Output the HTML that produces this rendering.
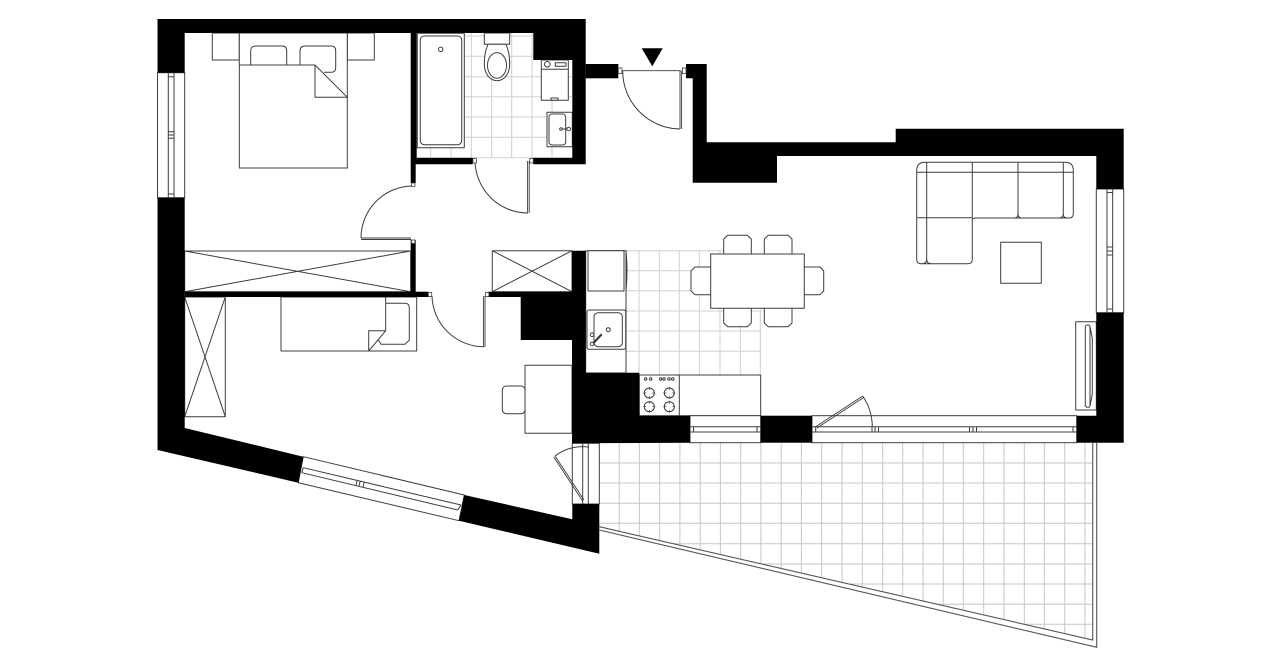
<!DOCTYPE html>
<html><head><meta charset="utf-8"><title>Floor plan</title>
<style>html,body{margin:0;padding:0;background:#fff}svg{display:block}</style></head>
<body>
<svg width="1280" height="667" viewBox="0 0 1280 667" xmlns="http://www.w3.org/2000/svg">
<rect width="1280" height="667" fill="#fff"/>

<!-- bathroom grid -->
<g stroke="#cfcfcf" stroke-width="1" fill="none">
<path d="M430.7 33V157.7M451 33V157.7M471.3 33V157.7M491.7 33V157.7M511.7 33V157.7M532 33V157.7M552 33V157.7"/>
<path d="M416.7 36H572M416.7 56.3H572M416.7 76.7H572M416.7 96.7H572M416.7 117H572M416.7 137.3H572M472 157.7H534"/>
</g>
<!-- kitchen grid -->
<g stroke="#cfcfcf" stroke-width="1" fill="none">
<path d="M639 250.7V375M659.3 250.7V375M679.3 250.7V375M699.3 250.7V375M720 250.7V375M740.3 250.7V375M760.3 300V375"/>
<path d="M626 250.7H745M626 270.7H711M626 290.7H711M626 311H760.5M626 331H760.5M626 351.3H760.5"/>
</g>
<!-- terrace grid -->
<clipPath id="t"><polygon points="599.3,443 1092.7,443 1092.7,640 599.3,526.7"/></clipPath>
<g stroke="#c6c6c6" stroke-width="1" fill="none" clip-path="url(#t)">
<path d="M619.2 443V650M639.4 443V650M659.7 443V650M679.9 443V650M700.2 443V650M720.4 443V650M740.7 443V650M760.9 443V650M781.2 443V650M801.4 443V650M821.7 443V650M842 443V650M862.3 443V650M882.7 443V650M902.7 443V650M923 443V650M943.3 443V650M963.3 443V650M983.7 443V650M1004 443V650M1024.3 443V650M1044.3 443V650M1064.7 443V650M1085 443V650"/>
<path d="M599 463H1093M599 483H1093M599 503.3H1093M599 523.3H1093M599 543.7H1093M599 564H1093M599 584H1093M599 604.3H1093M599 624.3H1093"/>
</g>
<g stroke="#555" stroke-width="1.1" fill="none">
<path d="M599.3 526.7L1092.7 640V443"/>
<path d="M599.3 530L1096.7 647.3V443"/>
</g>

<g stroke="#3c3c3c" stroke-width="1" fill="#fff" stroke-linejoin="round">
<!-- bed 1 -->
<rect x="212.3" y="33" width="27" height="27"/>
<rect x="347.3" y="33" width="27" height="27"/>
<rect x="239.3" y="33" width="108" height="135"/>
<path d="M250.7 65V51Q250.7 46 255.7 46H282Q286.7 46 286.7 51V65"/>
<path d="M300 65V51Q300 46 305 46H331Q335.7 46 335.7 51V68Q335.7 72.3 331 72.3H324"/>
<path d="M239.3 65H315L347.3 97.3H315V65" fill="none"/>
<!-- wardrobes -->
<rect x="184.7" y="251" width="226" height="40.7"/>
<path d="M184.7 251L410.7 291.7M184.7 291.7L410.7 251" fill="none"/>
<rect x="184.7" y="297" width="40.6" height="119.7"/>
<path d="M184.7 297L225.3 416.7M184.7 416.7L225.3 297" fill="none"/>
<rect x="492.3" y="250.7" width="79.7" height="41"/>
<path d="M492.3 250.7L572 291.7M492.3 291.7L572 250.7" fill="none"/>
<!-- bed 2 -->
<rect x="281" y="297" width="135.7" height="54"/>
<path d="M385.7 303.3H405Q409.3 303.3 409.3 308V340L405 344.3H381L378.5 340" fill="none"/>
<path d="M385.7 297V330.7H368.7V351L385.7 330.7" fill="#fff"/>
<!-- desk and chair -->
<rect x="502.3" y="386" width="22.7" height="27.7" rx="4"/>
<rect x="525" y="365.3" width="47" height="68"/>
<!-- bath -->
<rect x="417.3" y="33.3" width="47" height="114.4"/>
<rect x="420.3" y="36" width="41.4" height="108.7" rx="4"/>
<circle cx="440.7" cy="49.3" r="2.2"/>
<!-- toilet -->
<rect x="484.3" y="33" width="25.4" height="11.3"/>
<path d="M488 44.3C485.5 50 484.3 56 484.3 64C484.3 74 490 80.7 497 80.7C504 80.7 509.7 74 509.7 64C509.7 56 508.5 50 506 44.3Z"/>
<ellipse cx="497" cy="65.4" rx="9.5" ry="12.8"/>
<!-- washer -->
<rect x="541.3" y="60" width="27" height="40.3"/>
<path d="M541.3 69.3H568.3" fill="none"/>
<circle cx="547.3" cy="64.3" r="2.8"/>
<rect x="555.3" y="62.7" width="10.7" height="3.6"/>
<rect x="551" y="98" width="7" height="2.3"/>
<!-- basin -->
<rect x="547" y="112.3" width="25.3" height="34.4"/>
<rect x="549" y="114" width="16.7" height="31" rx="3"/>
<path d="M561 129H568.7" fill="none"/>
<circle cx="561" cy="129" r="1.3"/>
<circle cx="568.7" cy="129" r="1.8"/>
<!-- kitchen left counter -->
<rect x="585.7" y="250.7" width="40.3" height="122.3"/>
<rect x="588" y="250.7" width="36" height="40.3"/>
<path d="M626 251Q628 270 626 291" fill="none"/>
<rect x="587" y="310" width="38.7" height="39.3" rx="2"/>
<rect x="594" y="312.7" width="28.3" height="34" rx="4"/>
<circle cx="608.3" cy="329.7" r="2"/>
<path d="M593.3 343.3L601.7 334.3" fill="none" stroke-width="2.2"/>
<circle cx="592" cy="334.7" r="1.8"/>
<circle cx="592" cy="344" r="1.8"/>
<!-- kitchen counter -->
<rect x="639.3" y="375" width="121.4" height="40.7"/>
<rect x="639.3" y="375" width="40" height="40.7"/>
<circle cx="649.3" cy="393" r="5"/><circle cx="669.3" cy="393" r="5"/>
<circle cx="649.3" cy="406.7" r="5"/><circle cx="669.3" cy="406.7" r="5"/>
<path d="M649.3 387V390M649.3 396V399M643.3 393H646.3M652.3 393H655.3M669.3 387V390M669.3 396V399M663.3 393H666.3M672.3 393H675.3M649.3 400.7V403.7M649.3 409.7V412.7M643.3 406.7H646.3M652.3 406.7H655.3M669.3 400.7V403.7M669.3 409.7V412.7M663.3 406.7H666.3M672.3 406.7H675.3" fill="none" stroke-width=".7"/>
<circle cx="645.7" cy="379" r="1.2"/><circle cx="650.7" cy="379" r="1.2"/>
<circle cx="660.7" cy="379" r="1.2"/><circle cx="664" cy="379" r="1.2"/>
<circle cx="669" cy="379" r="1.2"/><circle cx="672.7" cy="379" r="1.2"/>
<!-- dining -->
<path d="M723.7 254V239L727.7 235.3H747.3L751.3 239V254M764.3 254V239L768.3 235.3H788L792 239V254M723.7 308.3V323L727.7 326.7H747.3L751.3 323V308.3M764.3 308.3V323L768.3 326.7H788L792 323V308.3M710.7 267H695L691 271V291L695 294.7H710.7M804.3 267H820L823.7 271V291L820 294.7H804.3"/>
<rect x="710.7" y="254" width="93.6" height="54.3"/>
<!-- sofa -->
<path d="M925 162.3H1065Q1073.3 162.3 1073.3 170.5V213.5Q1073.3 218 1069 218H975L972.3 219V259.5Q972.3 263.7 968 263.7H921Q916.7 263.7 916.7 259.5V170.5Q916.7 162.3 925 162.3Z"/>
<path d="M926.7 162.3V259Q926.7 263.7 931 263.7M926.7 259Q926.7 263.7 922 263.7M916.7 172.3H1073.3M972.3 162.3V217.7M1018 162.3V214Q1018 218 1022 218M1018 214Q1018 218 1014 218M1063.3 162.3V214Q1063.3 218 1067 218M1063.3 214Q1063.3 218 1059 218M916.7 217.7H972.3" fill="none"/>
<rect x="1000.7" y="242.3" width="40.6" height="41"/>
<!-- TV -->
<rect x="1075.7" y="321.7" width="20.6" height="88.3"/>
<path d="M1085.3 326L1087 325H1089L1090 327L1092.3 338V394L1090 406L1089 407.3H1087L1085.3 406Z"/>
<path d="M1090 327V406" fill="none"/>
</g>

<!-- windows -->
<g stroke="#3c3c3c" stroke-width="1" fill="#fff">
<rect x="157.5" y="72.7" width="27.2" height="125"/>
<path d="M168.3 72.7V197.7M174 72.7V197.7M168.3 76.7H174M168.3 131.7H174M168.3 135H174M168.3 138.3H174M168.3 194H174" fill="none"/>
<rect x="1096.3" y="189" width="27.4" height="123.7"/>
<path d="M1107 189V312.7M1112.7 189V312.7M1107 192.5H1112.7M1107 247H1112.7M1107 251H1112.7M1107 255H1112.7M1107 309H1112.7" fill="none"/>
<rect x="690" y="415.7" width="70.7" height="27"/>
<path d="M690 426.7H760.7M690 432H760.7M693.5 426.7V432M757 426.7V432" fill="none"/>
<rect x="812" y="415.7" width="264.7" height="27"/>
<path d="M812 426.7H1076.7M812 432H1076.7M815.7 426.7V432M872 426.7V432M875 426.7V432M878.5 426.7V432M969.5 426.7V432M973 426.7V432M976.5 426.7V432M1073 426.7V432" fill="none"/>
<polygon points="303.3,456.7 464.3,495 459,520.7 298.3,482.7"/>
<path d="M303.3 467.7L461 505M301.7 472.7L457.7 510M303.3 467.7L301.7 472.7M461 505L457.7 510M357 481L356 485.5M360 481.7L359 486.2M364 482.7L363 487.2" fill="none"/>
<rect x="572.3" y="443.3" width="27" height="60.7"/>
<path d="M582.7 443.3V504M588.3 443.3V504" fill="none"/>
</g>

<!-- walls -->
<g fill="#000">
<polygon points="157.5,19 585.7,19 585.7,164.3 533.3,164.3 533.3,157.7 572.3,157.7 572.3,60 533.3,60 533.3,33 416.7,33 416.7,157.7 472.7,157.7 472.7,164.3 415.7,164.3 415.7,183 410.7,183 410.7,33 184.7,33 184.7,72.7 157.5,72.7"/>
<polygon points="157.5,197.7 184.7,197.7 184.7,428 303.3,456.7 298.3,482.7 157.5,450"/>
<polygon points="464.3,495 572.3,519.3 572.3,504 599.3,504 599.3,553.7 459,520.7"/>
<rect x="585.7" y="64" width="32.6" height="14.3"/>
<polygon points="686,64 706.7,64 706.7,142.3 895.7,142.3 895.7,128.7 1123.7,128.7 1123.7,189 1096.3,189 1096.3,156 777,156 777,182.7 692.7,182.7 692.7,78.3 686,78.3"/>
<polygon points="1096.3,312.7 1123.7,312.7 1123.7,442.7 1076.7,442.7 1076.7,415.7 1096.3,415.7"/>
<rect x="760.7" y="415.7" width="51.3" height="27"/>
<polygon points="572,250.7 585.7,250.7 585.7,372.7 639.3,372.7 639.3,415.7 690,415.7 690,442.7 572,443.3 572,340 520.7,340 520.7,297 488.3,297 488.3,291.7 572,291.7"/>
<rect x="184.7" y="291.7" width="243.6" height="5.3"/>
<rect x="410.7" y="240" width="5" height="52"/>
<polygon points="641.7,48.3 662.7,48.3 652.3,66.3"/>
</g>

<!-- doors -->
<g fill="none" stroke="#3c3c3c" stroke-width="1">
<path d="M413 186A52 52 0 0 0 361 238"/>
<path d="M361 238H411M361 239.5H411" stroke-width=".9"/>
<path d="M475 161A53 53 0 0 0 528 213"/>
<path d="M527.6 161V213M529.2 161V213" stroke-width=".9"/>
<path d="M622.7 71A58 58 0 0 0 680 129"/>
<path d="M622 70.7H681M680 71V129M681.6 71V129" stroke-width=".9"/>
<path d="M432 296A52 52 0 0 0 484 346.7"/>
<path d="M483.4 296V347M485 296V347" stroke-width=".9"/>
<path d="M862.7 396A56 56 0 0 1 872.3 426.7"/>
<path d="M815.7 426.7L862.7 396M817 428L864 397.3" stroke-width=".9"/>
<path d="M555 456A45 45 0 0 1 588 447"/>
<path d="M584 500L555 456M582.6 501L553.8 457" stroke-width=".9"/>
</g>
<g fill="#fff" stroke="#3c3c3c" stroke-width=".8">
<rect x="411.5" y="183" width="3.4" height="3.4"/>
<rect x="411.5" y="240" width="3.4" height="3.4"/>
<rect x="428.3" y="292.5" width="3.4" height="4"/>
<rect x="485.5" y="292.5" width="3.4" height="4"/>
<rect x="473" y="158.5" width="3.4" height="4.5"/>
<rect x="529.8" y="158.5" width="3.4" height="4.5"/>
<rect x="618.3" y="68" width="3.6" height="5.5"/>
<rect x="682.4" y="68" width="3.6" height="5.5"/>
</g>
</svg>
</body></html>
